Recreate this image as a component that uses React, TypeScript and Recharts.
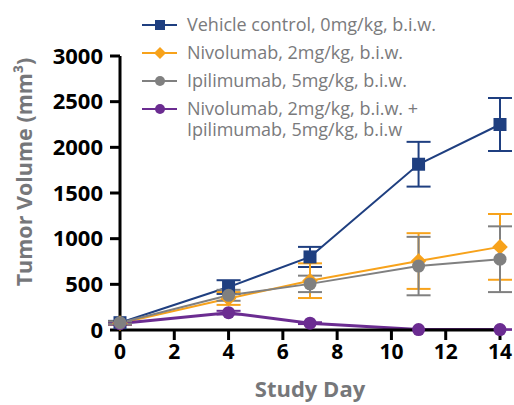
import { LineChart, Line, XAxis, YAxis, ErrorBar } from "recharts";

const DAYS = [0, 4, 7, 11, 14];
const VEHICLE = [80, 470, 800, 1815, 2250];
const VEHICLE_ERR = [20, 75, 110, 245, 290];
const NIVO = [75, 345, 540, 755, 910];
const NIVO_ERR = [15, 70, 190, 305, 360];
const IPI = [80, 380, 505, 700, 775];
const IPI_ERR = [15, 60, 90, 320, 360];
const COMBO = [70, 190, 75, 5, 5];
const COMBO_ERR = [10, 20, 10, 3, 3];

const Y_TICKS = [0, 500, 1000, 1500, 2000, 2500, 3000];
const X_TICKS = [0, 2, 4, 6, 8, 10, 12, 14];

const SERIES = [
  { key: "vehicle", err: "vehicleErr", name: "Vehicle control, 0mg/kg, b.i.w.", color: "#1f3f80", shape: "square" },
  { key: "nivo", err: "nivoErr", name: "Nivolumab, 2mg/kg, b.i.w.", color: "#f7a21b", shape: "diamond" },
  { key: "ipi", err: "ipiErr", name: "Ipilimumab, 5mg/kg, b.i.w.", color: "#808080", shape: "circle" },
  { key: "combo", err: "comboErr", name: "Nivolumab, 2mg/kg, b.i.w. +\nIpilimumab, 5mg/kg, b.i.w", color: "#6b2c91", shape: "circle" },
];
// gray series sits on top at day 0 in the original
const DRAW_ORDER = ["vehicle", "nivo", "combo", "ipi"];

const data = DAYS.map((d, i) => ({
  day: d,
  vehicle: VEHICLE[i],
  vehicleErr: VEHICLE_ERR[i],
  nivo: NIVO[i],
  nivoErr: NIVO_ERR[i],
  ipi: IPI[i],
  ipiErr: IPI_ERR[i],
  combo: COMBO[i],
  comboErr: COMBO_ERR[i],
}));

const FONT = "'Open Sans', sans-serif";
const LABEL_GRAY = "#76777a";

function Marker({ shape, color, cx, cy, size }: any) {
  if (shape === "square") {
    return <rect x={cx - size} y={cy - size} width={size * 2} height={size * 2} fill={color} />;
  }
  if (shape === "diamond") {
    const s = size * 1.2;
    return <polygon points={`${cx},${cy - s} ${cx + s},${cy} ${cx},${cy + s} ${cx - s},${cy}`} fill={color} />;
  }
  return <circle cx={cx} cy={cy} r={size} fill={color} />;
}

const makeDot = (shape: string, color: string, size: number) => (props: any) => {
  const { cx, cy, index } = props;
  if (cx == null || cy == null) return <g key={index} />;
  return <Marker key={index} shape={shape} color={color} cx={cx} cy={cy} size={size} />;
};

const YLabel = ({ viewBox }: any) => {
  const x = viewBox.x + 23;
  const y = viewBox.y + viewBox.height / 2 - 21;
  return (
    <text
      x={x}
      y={y}
      transform={`rotate(-90, ${x}, ${y})`}
      textAnchor="middle"
      dominantBaseline="central"
      fill={LABEL_GRAY}
      fontSize={21.5}
      fontWeight={700}
      fontFamily={FONT}
    >
      Tumor Volume (mm³)
    </text>
  );
};

// legend drawn outside the chart so it doesn't eat plot space
function LegendBox() {
  return (
    <div
      style={{
        position: "absolute",
        left: 141,
        top: 14,
        fontFamily: FONT,
        fontSize: 18,
        color: "#7a7a7c",
        lineHeight: "21px",
      }}
    >
      {SERIES.map((s) => (
        <div key={s.key} style={{ display: "flex", alignItems: "flex-start", marginBottom: 7 }}>
          <svg width={46} height={21} style={{ flex: "none" }}>
            <line x1={1} y1={11} x2={36} y2={11} stroke={s.color} strokeWidth={2} />
            <Marker shape={s.shape} color={s.color} cx={19} cy={11} size={5} />
          </svg>
          <div style={{ whiteSpace: "pre" }}>{s.name}</div>
        </div>
      ))}
    </div>
  );
}

export default function App() {
  const drawn = DRAW_ORDER.map((k) => SERIES.find((s) => s.key === k)!);
  return (
    <div style={{ position: "absolute", left: 0, top: 0, width: 514, height: 405, background: "#fff" }}>
      <LineChart width={514} height={405} data={data} margin={{ top: 56, right: 14, bottom: 0, left: 0 }}>
        <XAxis
          dataKey="day"
          type="number"
          domain={[0, 14]}
          ticks={X_TICKS}
          height={75}
          stroke="#000"
          strokeWidth={3}
          tickSize={10}
          tickMargin={4}
          tick={{ fill: "#000", fontSize: 21, fontWeight: 700, fontFamily: FONT }}
          label={{ value: "Study Day", position: "insideBottom", offset: 8, fill: LABEL_GRAY, fontSize: 22, fontWeight: 700, fontFamily: FONT }}
        />
        <YAxis
          width={120}
          domain={[0, 3000]}
          ticks={Y_TICKS}
          stroke="#000"
          strokeWidth={3}
          tickSize={10}
          tickMargin={7}
          tick={{ fill: "#000", fontSize: 22, fontWeight: 700, fontFamily: FONT }}
          label={<YLabel />}
        />
        {drawn.map((s) => (
          <Line
            key={s.key}
            dataKey={s.key}
            name={s.name}
            stroke={s.color}
            strokeWidth={s.key === "combo" ? 3 : 2}
            dot={makeDot(s.shape, s.color, 6.5)}
            activeDot={false}
            isAnimationActive={false}
          >
            <ErrorBar dataKey={s.err} width={12} stroke={s.color} strokeWidth={2} direction="y" />
          </Line>
        ))}
      </LineChart>
      <LegendBox />
    </div>
  );
}
